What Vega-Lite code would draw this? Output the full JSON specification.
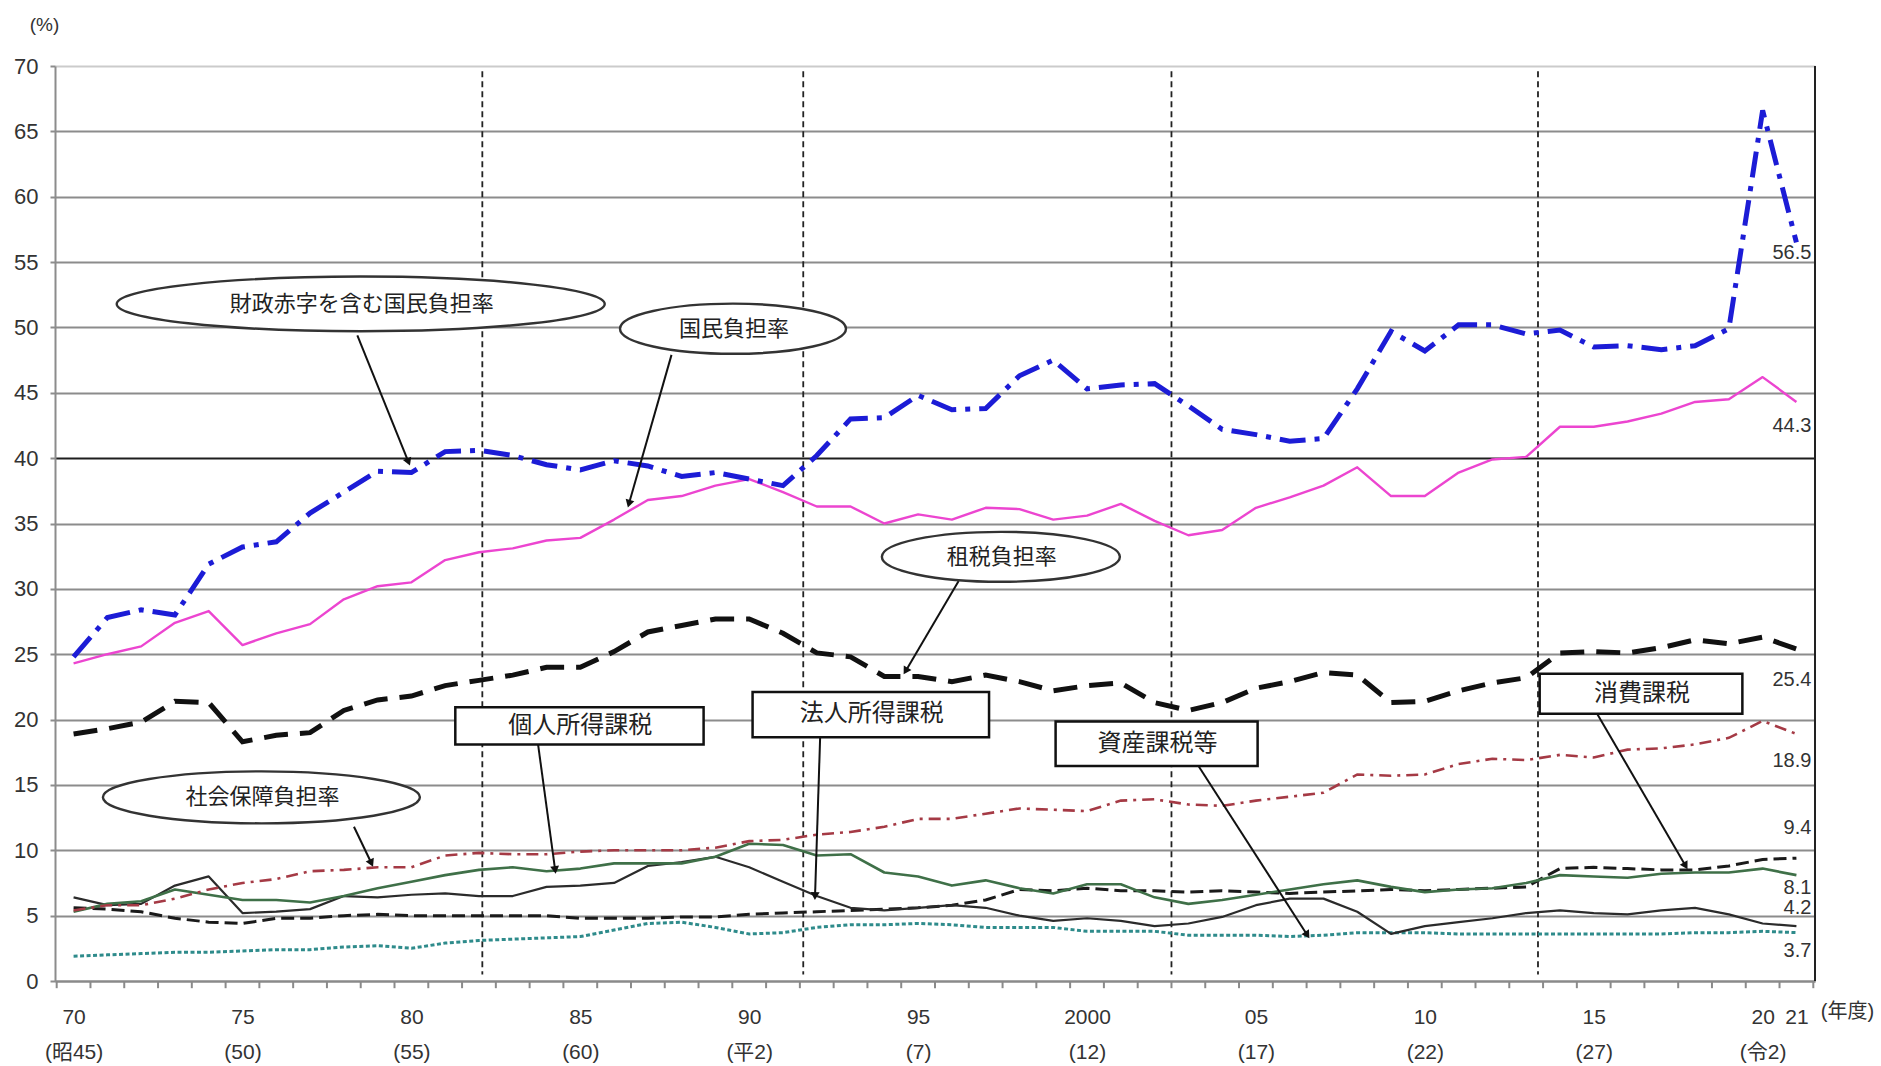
{
  "$schema": "https://vega.github.io/schema/vega-lite/v6.json",
  "width": 1760,
  "height": 915,
  "autosize": {"type": "none"},
  "padding": {"left": 55, "top": 66, "right": 66, "bottom": 85},
  "background": "white",
  "config": {
    "font": "Liberation Sans, Noto Sans CJK JP, sans-serif",
    "view": {"stroke": null},
    "axisX": {"labelOverlap": false, "labelFlush": false, "labelBound": false}
  },
  "datasets": {
    "notes": [
      {"label": "財政赤字を含む国民負担率", "year": 1978.5, "value": 51.8},
      {"label": "国民負担率", "year": 1989.52, "value": 49.9},
      {"label": "租税負担率", "year": 1997.45, "value": 32.45},
      {"label": "社会保障負担率", "year": 1975.56, "value": 14.05},
      {"label": "個人所得課税", "year": 1984.97, "value": 19.5},
      {"label": "法人所得課税", "year": 1993.6, "value": 20.4},
      {"label": "資産課税等", "year": 2002.06, "value": 18.15},
      {"label": "消費課税", "year": 2016.4, "value": 21.95}
    ],
    "boxes": [
      {"label": "個人所得課税", "year": 1981.3, "year2": 1988.65, "value": 18.1, "value2": 20.95},
      {"label": "法人所得課税", "year": 1990.1, "year2": 1997.1, "value": 18.65, "value2": 22.1},
      {"label": "資産課税等", "year": 1999.07, "year2": 2005.05, "value": 16.45, "value2": 19.85},
      {"label": "消費課税", "year": 2013.4, "year2": 2019.4, "value": 20.45, "value2": 23.5}
    ],
    "arrows": [
      {"label": "財政赤字を含む国民負担率", "year": 1978.4, "value": 49.4, "year2": 1979.9, "value2": 39.8},
      {"label": "国民負担率", "year": 1987.7, "value": 47.9, "year2": 1986.45, "value2": 36.6},
      {"label": "租税負担率", "year": 1996.2, "value": 30.6, "year2": 1994.65, "value2": 23.8},
      {"label": "社会保障負担率", "year": 1978.3, "value": 11.8, "year2": 1978.8, "value2": 9.1},
      {"label": "個人所得課税", "year": 1983.75, "value": 18.1, "year2": 1984.25, "value2": 8.6},
      {"label": "法人所得課税", "year": 1992.1, "value": 18.65, "year2": 1991.95, "value2": 6.6},
      {"label": "資産課税等", "year": 2003.3, "value": 16.45, "year2": 2006.5, "value2": 3.6},
      {"label": "消費課税", "year": 2015.1, "value": 20.45, "year2": 2017.7, "value2": 8.9}
    ],
    "bins": [
      {"year":1969.5},{"year":1970.5},{"year":1971.5},{"year":1972.5},{"year":1973.5},{"year":1974.5},{"year":1975.5},{"year":1976.5},{"year":1977.5},{"year":1978.5},
      {"year":1979.5},{"year":1980.5},{"year":1981.5},{"year":1982.5},{"year":1983.5},{"year":1984.5},{"year":1985.5},{"year":1986.5},{"year":1987.5},{"year":1988.5},
      {"year":1989.5},{"year":1990.5},{"year":1991.5},{"year":1992.5},{"year":1993.5},{"year":1994.5},{"year":1995.5},{"year":1996.5},{"year":1997.5},{"year":1998.5},
      {"year":1999.5},{"year":2000.5},{"year":2001.5},{"year":2002.5},{"year":2003.5},{"year":2004.5},{"year":2005.5},{"year":2006.5},{"year":2007.5},{"year":2008.5},
      {"year":2009.5},{"year":2010.5},{"year":2011.5},{"year":2012.5},{"year":2013.5},{"year":2014.5},{"year":2015.5},{"year":2016.5},{"year":2017.5},{"year":2018.5},
      {"year":2019.5},{"year":2020.5},{"year":2021.5}
    ]
  },
  "layer": [
    {
      "data": {"values": [{"year": 1982.1}, {"year": 1991.6}, {"year": 2002.5}, {"year": 2013.35}]},
      "mark": {"type": "rule", "color": "#222", "strokeWidth": 1.8, "strokeDash": [6, 4]},
      "encoding": {
        "x": {
          "field": "year", "type": "quantitative",
          "scale": {"domain": [1969.45, 2021.55], "nice": false, "zero": false},
          "axis": {
            "values": [1970, 1975, 1980, 1985, 1990, 1995, 2000, 2005, 2010, 2015, 2020, 2021],
            "labelExpr": "datum.value === 1970 ? ['70','(昭45)'] : datum.value === 1975 ? ['75','(50)'] : datum.value === 1980 ? ['80','(55)'] : datum.value === 1985 ? ['85','(60)'] : datum.value === 1990 ? ['90','(平2)'] : datum.value === 1995 ? ['95','(7)'] : datum.value === 2000 ? ['2000','(12)'] : datum.value === 2005 ? ['05','(17)'] : datum.value === 2010 ? ['10','(22)'] : datum.value === 2015 ? ['15','(27)'] : datum.value === 2020 ? ['20','(令2)'] : '21'",
            "ticks": false,
            "domainColor": "#8a8a8a", "domainWidth": 2,
            "grid": false,
            "labelFontSize": 21, "labelColor": "#333", "labelPadding": 25, "labelLineHeight": 35,
            "labelOverlap": false, "labelFlush": false, "labelBound": false,
            "title": "(年度)", "titleX": 1792, "titleY": 30, "titleAlign": "center", "titleBaseline": "middle",
            "titleFontSize": 20, "titleFontWeight": "normal", "titleColor": "#333", "titleAngle": 0
          }
        },
        "y": {
          "datum": 69.6, "type": "quantitative",
          "scale": {"domain": [0, 70], "nice": false, "zero": false},
          "axis": {
            "values": [0, 5, 10, 15, 20, 25, 30, 35, 40, 45, 50, 55, 60, 65, 70],
            "grid": true,
            "gridColor": {"condition": {"test": "datum.value === 40", "value": "#1e1e1e"}, "value": "#8c8c8c"},
            "gridOpacity": {"condition": {"test": "datum.value === 70", "value": 0.45}, "value": 1},
            "gridWidth": 2,
            "domainColor": "#8c8c8c", "domainWidth": 2,
            "tickSize": 5, "tickColor": "#8c8c8c", "tickWidth": 2,
            "labelFontSize": 22, "labelColor": "#333", "labelPadding": 12,
            "title": "(%)", "titleAngle": 0, "titleX": -11, "titleY": -42, "titleAlign": "center", "titleBaseline": "middle",
            "titleFontSize": 19, "titleFontWeight": "normal", "titleColor": "#333"
          }
        },
        "y2": {"datum": 0.5}
      }
    },
    {
      "data": {"name": "bins"},
      "mark": {"type": "rule", "color": "#8a8a8a", "strokeWidth": 2},
      "encoding": {
        "x": {"field": "year", "type": "quantitative", "scale": {"domain": [1969.45, 2021.55], "nice": false, "zero": false}},
        "y": {"datum": 0, "type": "quantitative", "scale": {"domain": [0, 70], "nice": false, "zero": false}},
        "y2": {"datum": -0.55}
      }
    },
    {
      "data": {"values": [
        {"year":1970,"value":1.9},{"year":1971,"value":2.0},{"year":1972,"value":2.1},{"year":1973,"value":2.2},{"year":1974,"value":2.2},{"year":1975,"value":2.3},{"year":1976,"value":2.4},{"year":1977,"value":2.4},{"year":1978,"value":2.6},{"year":1979,"value":2.7},
        {"year":1980,"value":2.5},{"year":1981,"value":2.9},{"year":1982,"value":3.1},{"year":1983,"value":3.2},{"year":1984,"value":3.3},{"year":1985,"value":3.4},{"year":1986,"value":3.9},{"year":1987,"value":4.4},{"year":1988,"value":4.5},{"year":1989,"value":4.1},
        {"year":1990,"value":3.6},{"year":1991,"value":3.7},{"year":1992,"value":4.1},{"year":1993,"value":4.3},{"year":1994,"value":4.3},{"year":1995,"value":4.4},{"year":1996,"value":4.3},{"year":1997,"value":4.1},{"year":1998,"value":4.1},{"year":1999,"value":4.1},
        {"year":2000,"value":3.8},{"year":2001,"value":3.8},{"year":2002,"value":3.8},{"year":2003,"value":3.5},{"year":2004,"value":3.5},{"year":2005,"value":3.5},{"year":2006,"value":3.4},{"year":2007,"value":3.5},{"year":2008,"value":3.7},{"year":2009,"value":3.7},
        {"year":2010,"value":3.7},{"year":2011,"value":3.6},{"year":2012,"value":3.6},{"year":2013,"value":3.6},{"year":2014,"value":3.6},{"year":2015,"value":3.6},{"year":2016,"value":3.6},{"year":2017,"value":3.6},{"year":2018,"value":3.7},{"year":2019,"value":3.7},
        {"year":2020,"value":3.8},{"year":2021,"value":3.7}
      ]},
      "layer": [
        {"mark": {"type": "line", "color": "#2e8b8b", "strokeWidth": 3, "strokeDash": [4, 2.5]},
         "encoding": {"x": {"field": "year", "type": "quantitative", "scale": {"domain": [1969.45, 2021.55], "nice": false, "zero": false}},
                      "y": {"field": "value", "type": "quantitative", "scale": {"domain": [0, 70], "nice": false, "zero": false}}}},
        {"transform": [{"filter": "datum.year === 2021"}],
         "mark": {"type": "text", "align": "right", "baseline": "middle", "dx": 15, "dy": 18, "fontSize": 20, "color": "#333"},
         "encoding": {"x": {"field": "year", "type": "quantitative", "scale": {"domain": [1969.45, 2021.55], "nice": false, "zero": false}},
                      "y": {"field": "value", "type": "quantitative", "scale": {"domain": [0, 70], "nice": false, "zero": false}},
                      "text": {"field": "value", "type": "quantitative", "format": ".1f"}}}
      ]
    },
    {
      "data": {"values": [
        {"year":1970,"value":5.6},{"year":1971,"value":5.5},{"year":1972,"value":5.3},{"year":1973,"value":4.8},{"year":1974,"value":4.5},{"year":1975,"value":4.4},{"year":1976,"value":4.8},{"year":1977,"value":4.8},{"year":1978,"value":5.0},{"year":1979,"value":5.1},
        {"year":1980,"value":5.0},{"year":1981,"value":5.0},{"year":1982,"value":5.0},{"year":1983,"value":5.0},{"year":1984,"value":5.0},{"year":1985,"value":4.8},{"year":1986,"value":4.8},{"year":1987,"value":4.8},{"year":1988,"value":4.9},{"year":1989,"value":4.9},
        {"year":1990,"value":5.1},{"year":1991,"value":5.2},{"year":1992,"value":5.3},{"year":1993,"value":5.4},{"year":1994,"value":5.5},{"year":1995,"value":5.6},{"year":1996,"value":5.8},{"year":1997,"value":6.2},{"year":1998,"value":7.0},{"year":1999,"value":6.9},
        {"year":2000,"value":7.1},{"year":2001,"value":6.9},{"year":2002,"value":6.9},{"year":2003,"value":6.8},{"year":2004,"value":6.9},{"year":2005,"value":6.8},{"year":2006,"value":6.7},{"year":2007,"value":6.8},{"year":2008,"value":6.9},{"year":2009,"value":7.0},
        {"year":2010,"value":6.9},{"year":2011,"value":7.0},{"year":2012,"value":7.1},{"year":2013,"value":7.2},{"year":2014,"value":8.6},{"year":2015,"value":8.7},{"year":2016,"value":8.6},{"year":2017,"value":8.5},{"year":2018,"value":8.5},{"year":2019,"value":8.8},
        {"year":2020,"value":9.3},{"year":2021,"value":9.4}
      ]},
      "layer": [
        {"mark": {"type": "line", "color": "#1a1a1a", "strokeWidth": 3, "strokeDash": [13, 6]},
         "encoding": {"x": {"field": "year", "type": "quantitative", "scale": {"domain": [1969.45, 2021.55], "nice": false, "zero": false}},
                      "y": {"field": "value", "type": "quantitative", "scale": {"domain": [0, 70], "nice": false, "zero": false}}}},
        {"transform": [{"filter": "datum.year === 2021"}],
         "mark": {"type": "text", "align": "right", "baseline": "middle", "dx": 15, "dy": -30, "fontSize": 20, "color": "#333"},
         "encoding": {"x": {"field": "year", "type": "quantitative", "scale": {"domain": [1969.45, 2021.55], "nice": false, "zero": false}},
                      "y": {"field": "value", "type": "quantitative", "scale": {"domain": [0, 70], "nice": false, "zero": false}},
                      "text": {"field": "value", "type": "quantitative", "format": ".1f"}}}
      ]
    },
    {
      "data": {"values": [
        {"year":1970,"value":6.4},{"year":1971,"value":5.8},{"year":1972,"value":5.9},{"year":1973,"value":7.3},{"year":1974,"value":8.0},{"year":1975,"value":5.2},{"year":1976,"value":5.3},{"year":1977,"value":5.5},{"year":1978,"value":6.5},{"year":1979,"value":6.4},
        {"year":1980,"value":6.6},{"year":1981,"value":6.7},{"year":1982,"value":6.5},{"year":1983,"value":6.5},{"year":1984,"value":7.2},{"year":1985,"value":7.3},{"year":1986,"value":7.5},{"year":1987,"value":8.8},{"year":1988,"value":9.1},{"year":1989,"value":9.5},
        {"year":1990,"value":8.7},{"year":1991,"value":7.6},{"year":1992,"value":6.5},{"year":1993,"value":5.6},{"year":1994,"value":5.4},{"year":1995,"value":5.6},{"year":1996,"value":5.8},{"year":1997,"value":5.6},{"year":1998,"value":5.0},{"year":1999,"value":4.6},
        {"year":2000,"value":4.8},{"year":2001,"value":4.6},{"year":2002,"value":4.2},{"year":2003,"value":4.4},{"year":2004,"value":4.9},{"year":2005,"value":5.8},{"year":2006,"value":6.3},{"year":2007,"value":6.3},{"year":2008,"value":5.3},{"year":2009,"value":3.6},
        {"year":2010,"value":4.2},{"year":2011,"value":4.5},{"year":2012,"value":4.8},{"year":2013,"value":5.2},{"year":2014,"value":5.4},{"year":2015,"value":5.2},{"year":2016,"value":5.1},{"year":2017,"value":5.4},{"year":2018,"value":5.6},{"year":2019,"value":5.1},
        {"year":2020,"value":4.4},{"year":2021,"value":4.2}
      ]},
      "layer": [
        {"mark": {"type": "line", "color": "#2b2b2b", "strokeWidth": 2.2, "strokeJoin": "round"},
         "encoding": {"x": {"field": "year", "type": "quantitative", "scale": {"domain": [1969.45, 2021.55], "nice": false, "zero": false}},
                      "y": {"field": "value", "type": "quantitative", "scale": {"domain": [0, 70], "nice": false, "zero": false}}}},
        {"transform": [{"filter": "datum.year === 2021"}],
         "mark": {"type": "text", "align": "right", "baseline": "middle", "dx": 15, "dy": -18, "fontSize": 20, "color": "#333"},
         "encoding": {"x": {"field": "year", "type": "quantitative", "scale": {"domain": [1969.45, 2021.55], "nice": false, "zero": false}},
                      "y": {"field": "value", "type": "quantitative", "scale": {"domain": [0, 70], "nice": false, "zero": false}},
                      "text": {"field": "value", "type": "quantitative", "format": ".1f"}}}
      ]
    },
    {
      "data": {"values": [
        {"year":1970,"value":5.3},{"year":1971,"value":5.9},{"year":1972,"value":6.1},{"year":1973,"value":7.0},{"year":1974,"value":6.6},{"year":1975,"value":6.2},{"year":1976,"value":6.2},{"year":1977,"value":6.0},{"year":1978,"value":6.5},{"year":1979,"value":7.1},
        {"year":1980,"value":7.6},{"year":1981,"value":8.1},{"year":1982,"value":8.5},{"year":1983,"value":8.7},{"year":1984,"value":8.4},{"year":1985,"value":8.6},{"year":1986,"value":9.0},{"year":1987,"value":9.0},{"year":1988,"value":9.0},{"year":1989,"value":9.5},
        {"year":1990,"value":10.5},{"year":1991,"value":10.4},{"year":1992,"value":9.6},{"year":1993,"value":9.7},{"year":1994,"value":8.3},{"year":1995,"value":8.0},{"year":1996,"value":7.3},{"year":1997,"value":7.7},{"year":1998,"value":7.1},{"year":1999,"value":6.7},
        {"year":2000,"value":7.4},{"year":2001,"value":7.4},{"year":2002,"value":6.4},{"year":2003,"value":5.9},{"year":2004,"value":6.2},{"year":2005,"value":6.6},{"year":2006,"value":7.0},{"year":2007,"value":7.4},{"year":2008,"value":7.7},{"year":2009,"value":7.2},
        {"year":2010,"value":6.8},{"year":2011,"value":7.0},{"year":2012,"value":7.1},{"year":2013,"value":7.5},{"year":2014,"value":8.1},{"year":2015,"value":8.0},{"year":2016,"value":7.9},{"year":2017,"value":8.2},{"year":2018,"value":8.3},{"year":2019,"value":8.3},
        {"year":2020,"value":8.6},{"year":2021,"value":8.1}
      ]},
      "layer": [
        {"mark": {"type": "line", "color": "#3f7048", "strokeWidth": 2.6, "strokeJoin": "round"},
         "encoding": {"x": {"field": "year", "type": "quantitative", "scale": {"domain": [1969.45, 2021.55], "nice": false, "zero": false}},
                      "y": {"field": "value", "type": "quantitative", "scale": {"domain": [0, 70], "nice": false, "zero": false}}}},
        {"transform": [{"filter": "datum.year === 2021"}],
         "mark": {"type": "text", "align": "right", "baseline": "middle", "dx": 15, "dy": 13, "fontSize": 20, "color": "#333"},
         "encoding": {"x": {"field": "year", "type": "quantitative", "scale": {"domain": [1969.45, 2021.55], "nice": false, "zero": false}},
                      "y": {"field": "value", "type": "quantitative", "scale": {"domain": [0, 70], "nice": false, "zero": false}},
                      "text": {"field": "value", "type": "quantitative", "format": ".1f"}}}
      ]
    },
    {
      "data": {"values": [
        {"year":1970,"value":5.4},{"year":1971,"value":5.8},{"year":1972,"value":5.8},{"year":1973,"value":6.3},{"year":1974,"value":7.0},{"year":1975,"value":7.5},{"year":1976,"value":7.8},{"year":1977,"value":8.4},{"year":1978,"value":8.5},{"year":1979,"value":8.7},
        {"year":1980,"value":8.7},{"year":1981,"value":9.6},{"year":1982,"value":9.8},{"year":1983,"value":9.7},{"year":1984,"value":9.7},{"year":1985,"value":9.9},{"year":1986,"value":10.0},{"year":1987,"value":10.0},{"year":1988,"value":10.0},{"year":1989,"value":10.2},
        {"year":1990,"value":10.7},{"year":1991,"value":10.8},{"year":1992,"value":11.2},{"year":1993,"value":11.4},{"year":1994,"value":11.8},{"year":1995,"value":12.4},{"year":1996,"value":12.4},{"year":1997,"value":12.8},{"year":1998,"value":13.2},{"year":1999,"value":13.1},
        {"year":2000,"value":13.0},{"year":2001,"value":13.8},{"year":2002,"value":13.9},{"year":2003,"value":13.5},{"year":2004,"value":13.4},{"year":2005,"value":13.8},{"year":2006,"value":14.1},{"year":2007,"value":14.4},{"year":2008,"value":15.8},{"year":2009,"value":15.7},
        {"year":2010,"value":15.8},{"year":2011,"value":16.6},{"year":2012,"value":17.0},{"year":2013,"value":16.9},{"year":2014,"value":17.3},{"year":2015,"value":17.1},{"year":2016,"value":17.7},{"year":2017,"value":17.8},{"year":2018,"value":18.1},{"year":2019,"value":18.6},
        {"year":2020,"value":19.9},{"year":2021,"value":18.9}
      ]},
      "layer": [
        {"mark": {"type": "line", "color": "#a53a45", "strokeWidth": 2.6, "strokeDash": [12, 6, 3, 6]},
         "encoding": {"x": {"field": "year", "type": "quantitative", "scale": {"domain": [1969.45, 2021.55], "nice": false, "zero": false}},
                      "y": {"field": "value", "type": "quantitative", "scale": {"domain": [0, 70], "nice": false, "zero": false}}}},
        {"transform": [{"filter": "datum.year === 2021"}],
         "mark": {"type": "text", "align": "right", "baseline": "middle", "dx": 15, "dy": 27, "fontSize": 20, "color": "#333"},
         "encoding": {"x": {"field": "year", "type": "quantitative", "scale": {"domain": [1969.45, 2021.55], "nice": false, "zero": false}},
                      "y": {"field": "value", "type": "quantitative", "scale": {"domain": [0, 70], "nice": false, "zero": false}},
                      "text": {"field": "value", "type": "quantitative", "format": ".1f"}}}
      ]
    },
    {
      "data": {"values": [
        {"year":1970,"value":18.9},{"year":1971,"value":19.3},{"year":1972,"value":19.8},{"year":1973,"value":21.4},{"year":1974,"value":21.3},{"year":1975,"value":18.3},{"year":1976,"value":18.8},{"year":1977,"value":19.0},{"year":1978,"value":20.7},{"year":1979,"value":21.5},
        {"year":1980,"value":21.8},{"year":1981,"value":22.6},{"year":1982,"value":23.0},{"year":1983,"value":23.4},{"year":1984,"value":24.0},{"year":1985,"value":24.0},{"year":1986,"value":25.2},{"year":1987,"value":26.7},{"year":1988,"value":27.2},{"year":1989,"value":27.7},
        {"year":1990,"value":27.7},{"year":1991,"value":26.6},{"year":1992,"value":25.1},{"year":1993,"value":24.8},{"year":1994,"value":23.3},{"year":1995,"value":23.3},{"year":1996,"value":22.9},{"year":1997,"value":23.4},{"year":1998,"value":22.9},{"year":1999,"value":22.2},
        {"year":2000,"value":22.6},{"year":2001,"value":22.8},{"year":2002,"value":21.3},{"year":2003,"value":20.7},{"year":2004,"value":21.3},{"year":2005,"value":22.4},{"year":2006,"value":22.9},{"year":2007,"value":23.6},{"year":2008,"value":23.4},{"year":2009,"value":21.3},
        {"year":2010,"value":21.4},{"year":2011,"value":22.2},{"year":2012,"value":22.8},{"year":2013,"value":23.2},{"year":2014,"value":25.1},{"year":2015,"value":25.2},{"year":2016,"value":25.1},{"year":2017,"value":25.5},{"year":2018,"value":26.1},{"year":2019,"value":25.8},
        {"year":2020,"value":26.3},{"year":2021,"value":25.4}
      ]},
      "layer": [
        {"mark": {"type": "line", "color": "#111111", "strokeWidth": 5, "strokeDash": [24, 12]},
         "encoding": {"x": {"field": "year", "type": "quantitative", "scale": {"domain": [1969.45, 2021.55], "nice": false, "zero": false}},
                      "y": {"field": "value", "type": "quantitative", "scale": {"domain": [0, 70], "nice": false, "zero": false}}}},
        {"transform": [{"filter": "datum.year === 2021"}],
         "mark": {"type": "text", "align": "right", "baseline": "middle", "dx": 15, "dy": 31, "fontSize": 20, "color": "#333"},
         "encoding": {"x": {"field": "year", "type": "quantitative", "scale": {"domain": [1969.45, 2021.55], "nice": false, "zero": false}},
                      "y": {"field": "value", "type": "quantitative", "scale": {"domain": [0, 70], "nice": false, "zero": false}},
                      "text": {"field": "value", "type": "quantitative", "format": ".1f"}}}
      ]
    },
    {
      "data": {"values": [
        {"year":1970,"value":24.3},{"year":1971,"value":25.0},{"year":1972,"value":25.6},{"year":1973,"value":27.4},{"year":1974,"value":28.3},{"year":1975,"value":25.7},{"year":1976,"value":26.6},{"year":1977,"value":27.3},{"year":1978,"value":29.2},{"year":1979,"value":30.2},
        {"year":1980,"value":30.5},{"year":1981,"value":32.2},{"year":1982,"value":32.8},{"year":1983,"value":33.1},{"year":1984,"value":33.7},{"year":1985,"value":33.9},{"year":1986,"value":35.3},{"year":1987,"value":36.8},{"year":1988,"value":37.1},{"year":1989,"value":37.9},
        {"year":1990,"value":38.4},{"year":1991,"value":37.4},{"year":1992,"value":36.3},{"year":1993,"value":36.3},{"year":1994,"value":35.0},{"year":1995,"value":35.7},{"year":1996,"value":35.3},{"year":1997,"value":36.2},{"year":1998,"value":36.1},{"year":1999,"value":35.3},
        {"year":2000,"value":35.6},{"year":2001,"value":36.5},{"year":2002,"value":35.2},{"year":2003,"value":34.1},{"year":2004,"value":34.5},{"year":2005,"value":36.2},{"year":2006,"value":37.0},{"year":2007,"value":37.9},{"year":2008,"value":39.3},{"year":2009,"value":37.1},
        {"year":2010,"value":37.1},{"year":2011,"value":38.9},{"year":2012,"value":39.9},{"year":2013,"value":40.1},{"year":2014,"value":42.4},{"year":2015,"value":42.4},{"year":2016,"value":42.8},{"year":2017,"value":43.4},{"year":2018,"value":44.3},{"year":2019,"value":44.5},
        {"year":2020,"value":46.2},{"year":2021,"value":44.3}
      ]},
      "layer": [
        {"mark": {"type": "line", "color": "#ec45d0", "strokeWidth": 2.4, "strokeJoin": "round"},
         "encoding": {"x": {"field": "year", "type": "quantitative", "scale": {"domain": [1969.45, 2021.55], "nice": false, "zero": false}},
                      "y": {"field": "value", "type": "quantitative", "scale": {"domain": [0, 70], "nice": false, "zero": false}}}},
        {"transform": [{"filter": "datum.year === 2021"}],
         "mark": {"type": "text", "align": "right", "baseline": "middle", "dx": 15, "dy": 24, "fontSize": 20, "color": "#333"},
         "encoding": {"x": {"field": "year", "type": "quantitative", "scale": {"domain": [1969.45, 2021.55], "nice": false, "zero": false}},
                      "y": {"field": "value", "type": "quantitative", "scale": {"domain": [0, 70], "nice": false, "zero": false}},
                      "text": {"field": "value", "type": "quantitative", "format": ".1f"}}}
      ]
    },
    {
      "data": {"values": [
        {"year":1970,"value":24.8},{"year":1971,"value":27.8},{"year":1972,"value":28.4},{"year":1973,"value":28.0},{"year":1974,"value":31.9},{"year":1975,"value":33.2},{"year":1976,"value":33.6},{"year":1977,"value":35.8},{"year":1978,"value":37.4},{"year":1979,"value":39.0},
        {"year":1980,"value":38.9},{"year":1981,"value":40.5},{"year":1982,"value":40.6},{"year":1983,"value":40.2},{"year":1984,"value":39.5},{"year":1985,"value":39.1},{"year":1986,"value":39.8},{"year":1987,"value":39.4},{"year":1988,"value":38.6},{"year":1989,"value":38.9},
        {"year":1990,"value":38.4},{"year":1991,"value":37.9},{"year":1992,"value":40.2},{"year":1993,"value":43.0},{"year":1994,"value":43.1},{"year":1995,"value":44.8},{"year":1996,"value":43.7},{"year":1997,"value":43.8},{"year":1998,"value":46.3},{"year":1999,"value":47.5},
        {"year":2000,"value":45.3},{"year":2001,"value":45.6},{"year":2002,"value":45.7},{"year":2003,"value":44.0},{"year":2004,"value":42.2},{"year":2005,"value":41.8},{"year":2006,"value":41.3},{"year":2007,"value":41.5},{"year":2008,"value":45.3},{"year":2009,"value":49.7},
        {"year":2010,"value":48.2},{"year":2011,"value":50.2},{"year":2012,"value":50.2},{"year":2013,"value":49.5},{"year":2014,"value":49.8},{"year":2015,"value":48.5},{"year":2016,"value":48.6},{"year":2017,"value":48.3},{"year":2018,"value":48.6},{"year":2019,"value":49.9},
        {"year":2020,"value":66.6},{"year":2021,"value":56.5}
      ]},
      "layer": [
        {"mark": {"type": "line", "color": "#1c1cd6", "strokeWidth": 5, "strokeDash": [26, 9, 5, 9]},
         "encoding": {"x": {"field": "year", "type": "quantitative", "scale": {"domain": [1969.45, 2021.55], "nice": false, "zero": false}},
                      "y": {"field": "value", "type": "quantitative", "scale": {"domain": [0, 70], "nice": false, "zero": false}}}},
        {"transform": [{"filter": "datum.year === 2021"}],
         "mark": {"type": "text", "align": "right", "baseline": "middle", "dx": 15, "dy": 11, "fontSize": 20, "color": "#333"},
         "encoding": {"x": {"field": "year", "type": "quantitative", "scale": {"domain": [1969.45, 2021.55], "nice": false, "zero": false}},
                      "y": {"field": "value", "type": "quantitative", "scale": {"domain": [0, 70], "nice": false, "zero": false}},
                      "text": {"field": "value", "type": "quantitative", "format": ".1f"}}}
      ]
    },
    {
      "data": {"name": "arrows"},
      "mark": {"type": "rule", "color": "#111", "strokeWidth": 2},
      "encoding": {
        "x": {"field": "year", "type": "quantitative", "scale": {"domain": [1969.45, 2021.55], "nice": false, "zero": false}},
        "y": {"field": "value", "type": "quantitative", "scale": {"domain": [0, 70], "nice": false, "zero": false}},
        "x2": {"field": "year2"},
        "y2": {"field": "value2"}
      }
    },
    {"data": {"name": "arrows"}, "transform": [{"filter": "datum.label === '財政赤字を含む国民負担率'"}],
     "mark": {"type": "point", "shape": "triangle", "size": 80, "filled": true, "color": "#111", "opacity": 1, "angle": 158},
     "encoding": {"x": {"field": "year2", "type": "quantitative", "scale": {"domain": [1969.45, 2021.55], "nice": false, "zero": false}},
                  "y": {"field": "value2", "type": "quantitative", "scale": {"domain": [0, 70], "nice": false, "zero": false}}}},
    {"data": {"name": "arrows"}, "transform": [{"filter": "datum.label === '国民負担率'"}],
     "mark": {"type": "point", "shape": "triangle", "size": 80, "filled": true, "color": "#111", "opacity": 1, "angle": 196},
     "encoding": {"x": {"field": "year2", "type": "quantitative", "scale": {"domain": [1969.45, 2021.55], "nice": false, "zero": false}},
                  "y": {"field": "value2", "type": "quantitative", "scale": {"domain": [0, 70], "nice": false, "zero": false}}}},
    {"data": {"name": "arrows"}, "transform": [{"filter": "datum.label === '租税負担率'"}],
     "mark": {"type": "point", "shape": "triangle", "size": 80, "filled": true, "color": "#111", "opacity": 1, "angle": 211},
     "encoding": {"x": {"field": "year2", "type": "quantitative", "scale": {"domain": [1969.45, 2021.55], "nice": false, "zero": false}},
                  "y": {"field": "value2", "type": "quantitative", "scale": {"domain": [0, 70], "nice": false, "zero": false}}}},
    {"data": {"name": "arrows"}, "transform": [{"filter": "datum.label === '社会保障負担率'"}],
     "mark": {"type": "point", "shape": "triangle", "size": 80, "filled": true, "color": "#111", "opacity": 1, "angle": 155},
     "encoding": {"x": {"field": "year2", "type": "quantitative", "scale": {"domain": [1969.45, 2021.55], "nice": false, "zero": false}},
                  "y": {"field": "value2", "type": "quantitative", "scale": {"domain": [0, 70], "nice": false, "zero": false}}}},
    {"data": {"name": "arrows"}, "transform": [{"filter": "datum.label === '個人所得課税'"}],
     "mark": {"type": "point", "shape": "triangle", "size": 80, "filled": true, "color": "#111", "opacity": 1, "angle": 172},
     "encoding": {"x": {"field": "year2", "type": "quantitative", "scale": {"domain": [1969.45, 2021.55], "nice": false, "zero": false}},
                  "y": {"field": "value2", "type": "quantitative", "scale": {"domain": [0, 70], "nice": false, "zero": false}}}},
    {"data": {"name": "arrows"}, "transform": [{"filter": "datum.label === '法人所得課税'"}],
     "mark": {"type": "point", "shape": "triangle", "size": 80, "filled": true, "color": "#111", "opacity": 1, "angle": 182},
     "encoding": {"x": {"field": "year2", "type": "quantitative", "scale": {"domain": [1969.45, 2021.55], "nice": false, "zero": false}},
                  "y": {"field": "value2", "type": "quantitative", "scale": {"domain": [0, 70], "nice": false, "zero": false}}}},
    {"data": {"name": "arrows"}, "transform": [{"filter": "datum.label === '資産課税等'"}],
     "mark": {"type": "point", "shape": "triangle", "size": 80, "filled": true, "color": "#111", "opacity": 1, "angle": 147},
     "encoding": {"x": {"field": "year2", "type": "quantitative", "scale": {"domain": [1969.45, 2021.55], "nice": false, "zero": false}},
                  "y": {"field": "value2", "type": "quantitative", "scale": {"domain": [0, 70], "nice": false, "zero": false}}}},
    {"data": {"name": "arrows"}, "transform": [{"filter": "datum.label === '消費課税'"}],
     "mark": {"type": "point", "shape": "triangle", "size": 80, "filled": true, "color": "#111", "opacity": 1, "angle": 150},
     "encoding": {"x": {"field": "year2", "type": "quantitative", "scale": {"domain": [1969.45, 2021.55], "nice": false, "zero": false}},
                  "y": {"field": "value2", "type": "quantitative", "scale": {"domain": [0, 70], "nice": false, "zero": false}}}},
    {
      "data": {"name": "boxes"},
      "mark": {"type": "rect", "fill": "white", "stroke": "#111", "strokeWidth": 2.5},
      "encoding": {
        "x": {"field": "year", "type": "quantitative", "scale": {"domain": [1969.45, 2021.55], "nice": false, "zero": false}},
        "x2": {"field": "year2"},
        "y": {"field": "value", "type": "quantitative", "scale": {"domain": [0, 70], "nice": false, "zero": false}},
        "y2": {"field": "value2"}
      }
    },
    {"data": {"name": "notes"}, "transform": [{"filter": "datum.label === '財政赤字を含む国民負担率'"}],
     "mark": {"type": "point", "shape": "M-1,0 A1,0.112 0 1,1 1,0 A1,0.112 0 1,1 -1,0 Z", "size": 238144, "fill": "white", "stroke": "#333", "strokeWidth": 2.4, "opacity": 1, "fillOpacity": 1},
     "encoding": {"x": {"field": "year", "type": "quantitative", "scale": {"domain": [1969.45, 2021.55], "nice": false, "zero": false}},
                  "y": {"field": "value", "type": "quantitative", "scale": {"domain": [0, 70], "nice": false, "zero": false}}}},
    {"data": {"name": "notes"}, "transform": [{"filter": "datum.label === '国民負担率'"}],
     "mark": {"type": "point", "shape": "M-1,0 A1,0.222 0 1,1 1,0 A1,0.222 0 1,1 -1,0 Z", "size": 51076, "fill": "white", "stroke": "#333", "strokeWidth": 2.4, "opacity": 1, "fillOpacity": 1},
     "encoding": {"x": {"field": "year", "type": "quantitative", "scale": {"domain": [1969.45, 2021.55], "nice": false, "zero": false}},
                  "y": {"field": "value", "type": "quantitative", "scale": {"domain": [0, 70], "nice": false, "zero": false}}}},
    {"data": {"name": "notes"}, "transform": [{"filter": "datum.label === '租税負担率'"}],
     "mark": {"type": "point", "shape": "M-1,0 A1,0.21 0 1,1 1,0 A1,0.21 0 1,1 -1,0 Z", "size": 56644, "fill": "white", "stroke": "#333", "strokeWidth": 2.4, "opacity": 1, "fillOpacity": 1},
     "encoding": {"x": {"field": "year", "type": "quantitative", "scale": {"domain": [1969.45, 2021.55], "nice": false, "zero": false}},
                  "y": {"field": "value", "type": "quantitative", "scale": {"domain": [0, 70], "nice": false, "zero": false}}}},
    {"data": {"name": "notes"}, "transform": [{"filter": "datum.label === '社会保障負担率'"}],
     "mark": {"type": "point", "shape": "M-1,0 A1,0.164 0 1,1 1,0 A1,0.164 0 1,1 -1,0 Z", "size": 100489, "fill": "white", "stroke": "#333", "strokeWidth": 2.4, "opacity": 1, "fillOpacity": 1},
     "encoding": {"x": {"field": "year", "type": "quantitative", "scale": {"domain": [1969.45, 2021.55], "nice": false, "zero": false}},
                  "y": {"field": "value", "type": "quantitative", "scale": {"domain": [0, 70], "nice": false, "zero": false}}}},
    {"data": {"name": "notes"}, "transform": [{"filter": {"field": "label", "oneOf": ["財政赤字を含む国民負担率", "国民負担率", "租税負担率", "社会保障負担率"]}}],
     "mark": {"type": "text", "align": "center", "baseline": "middle", "fontSize": 22, "letterSpacing": 2.5, "color": "#222", "dx": 1},
     "encoding": {"x": {"field": "year", "type": "quantitative", "scale": {"domain": [1969.45, 2021.55], "nice": false, "zero": false}},
                  "y": {"field": "value", "type": "quantitative", "scale": {"domain": [0, 70], "nice": false, "zero": false}},
                  "text": {"field": "label", "type": "nominal"}}},
    {"data": {"name": "notes"}, "transform": [{"filter": {"field": "label", "oneOf": ["個人所得課税", "法人所得課税", "資産課税等", "消費課税"]}}],
     "mark": {"type": "text", "align": "center", "baseline": "middle", "fontSize": 24, "letterSpacing": 3, "color": "#222", "dx": 1},
     "encoding": {"x": {"field": "year", "type": "quantitative", "scale": {"domain": [1969.45, 2021.55], "nice": false, "zero": false}},
                  "y": {"field": "value", "type": "quantitative", "scale": {"domain": [0, 70], "nice": false, "zero": false}},
                  "text": {"field": "label", "type": "nominal"}}},
    {
      "data": {"values": [{}]},
      "mark": {"type": "rule", "color": "#222", "strokeWidth": 2},
      "encoding": {
        "x": {"datum": 2021.55, "type": "quantitative", "scale": {"domain": [1969.45, 2021.55], "nice": false, "zero": false}},
        "y": {"datum": 0, "type": "quantitative", "scale": {"domain": [0, 70], "nice": false, "zero": false}},
        "y2": {"datum": 70}
      }
    }
  ]
}
